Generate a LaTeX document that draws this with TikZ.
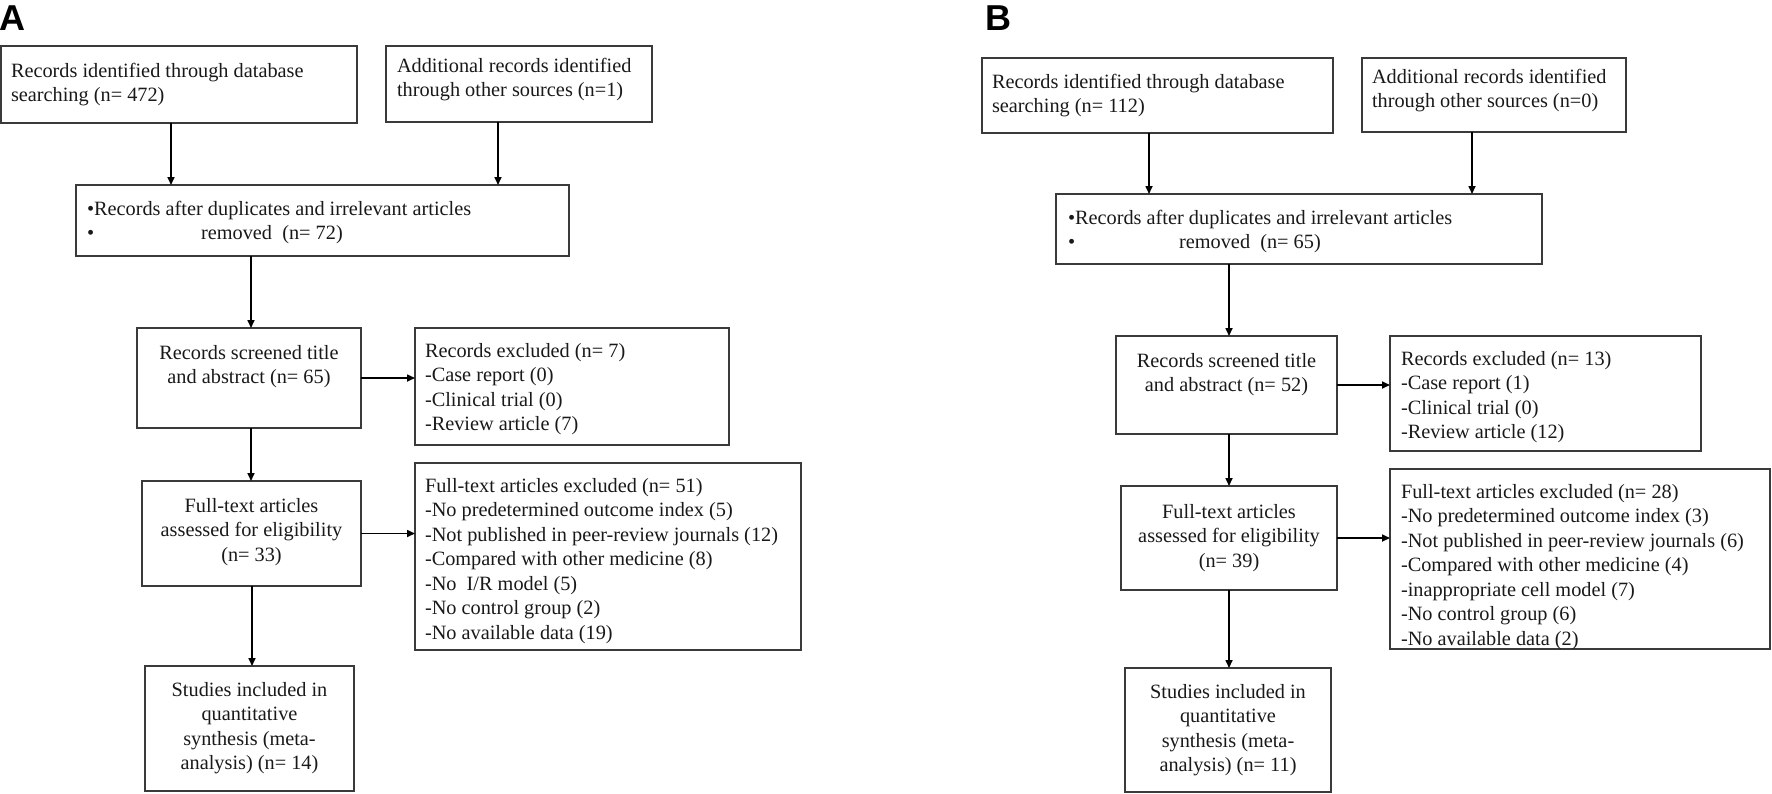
\documentclass[tikz,border=0pt]{standalone}
\usepackage{fontspec}
\setmainfont{Liberation Serif}
\newfontfamily\labfont{Liberation Sans}
\usetikzlibrary{arrows.meta,calc}
\definecolor{boxline}{HTML}{3A3A3A}
\newcommand{\mybox}[5]{\node[boxn, minimum width={#4-#2}, minimum height={#5-#3}] (#1) at ({(#2+#4)/2},{(#3+#5)/2}) {};}
\begin{document}
\begin{tikzpicture}[x=1pt,y=-1pt,
  boxn/.style={draw=boxline, line width=1.5pt, inner sep=0pt, outer sep=0pt, rectangle},
  txt/.style={inner sep=0pt, outer sep=0pt, font=\fontsize{20.3}{24.5}\selectfont, text=black!90, align=left, anchor=base west},
  ctxt/.style={inner sep=0pt, outer sep=0pt, font=\fontsize{20.3}{24.5}\selectfont, text=black!90, align=center, anchor=base},
  arr/.style={draw=black, line width=1.6pt, -{Triangle[length=8pt,width=7pt]}},
  lab/.style={inner sep=0pt, outer sep=0pt, font=\labfont\bfseries\fontsize{36}{36}\selectfont, anchor=base west}
]
\useasboundingbox (0,0) rectangle (1772,793);
% ---------------- Panel A ----------------
\node[lab] (labA) at (-1,30) {A};
\mybox{A1}{1}{46}{357}{123}
\mybox{A2}{386}{46}{652}{122}
\mybox{A3}{76}{185}{569}{256}
\mybox{A4}{137}{328}{361}{428}
\mybox{A5}{415}{328}{729}{445}
\mybox{A6}{142}{481}{361}{586}
\mybox{A7}{415}{463}{801}{650}
\mybox{A8}{145}{666}{354}{791}
\node[txt] (tA1) at (11,101.5) {Records identified through database\\searching (n= 472)};
\node[txt] (tA2) at (397,96.5) {Additional records identified\\through other sources (n=1)};
\node[txt] (tA3) at (87,239.5) {•Records after duplicates and irrelevant articles\\•\hspace{107pt}removed\ \ (n= 72)};
\node[ctxt] (tA4) at (249,383.5) {Records screened title\\and abstract (n= 65)};
\node[txt] (tA5) at (425,430.5) {Records excluded (n= 7)\\-Case report (0)\\-Clinical trial (0)\\-Review article (7)};
\node[ctxt] (tA6) at (251.5,561) {Full-text articles\\assessed for eligibility\\(n= 33)};
\node[txt] (tA7) at (425,639) {Full-text articles excluded (n= 51)\\-No predetermined outcome index (5)\\-Not published in peer-review journals (12)\\-Compared with other medicine (8)\\-No\ \ I/R model (5)\\-No control group (2)\\-No available data (19)};
\node[ctxt] (tA8) at (249.5,769.5) {Studies included in\\quantitative\\synthesis (meta\mbox{-}\\analysis) (n= 14)};
\draw[arr] ([xshift=-8pt]A1.south) -- ([xshift=-8pt]A1.south |- A3.north);
\draw[arr] ([xshift=-21pt]A2.south) -- ([xshift=-21pt]A2.south |- A3.north);
\draw[arr] ([xshift=2pt]A4.north |- A3.south) -- ([xshift=2pt]A4.north);
\draw[arr] (A4.east) -- (A4.east -| A5.west);
\draw[arr] ([xshift=2pt]A4.south) -- ([xshift=2pt]A4.south |- A6.north);
\draw[arr] (A6.east) -- (A6.east -| A7.west);
\draw[arr] ([xshift=0.5pt]A6.south) -- ([xshift=0.5pt]A6.south |- A8.north);
% ---------------- Panel B ----------------
\node[lab] (labB) at (985,30) {B};
\mybox{B1}{982}{58}{1333}{133}
\mybox{B2}{1362}{58}{1626}{132}
\mybox{B3}{1056}{194}{1542}{264}
\mybox{B4}{1116}{336}{1337}{434}
\mybox{B5}{1390}{336}{1701}{451}
\mybox{B6}{1121}{486}{1337}{590}
\mybox{B7}{1390}{469}{1770}{649}
\mybox{B8}{1125}{668}{1331}{792}
\node[txt] (tB1) at (992,112.5) {Records identified through database\\searching (n= 112)};
\node[txt] (tB2) at (1372,107.5) {Additional records identified\\through other sources (n=0)};
\node[txt] (tB3) at (1068,248.5) {•Records after duplicates and irrelevant articles\\•\hspace{104pt}removed\ \ (n= 65)};
\node[ctxt] (tB4) at (1226.5,391.5) {Records screened title\\and abstract (n= 52)};
\node[txt] (tB5) at (1401,438.5) {Records excluded (n= 13)\\-Case report (1)\\-Clinical trial (0)\\-Review article (12)};
\node[ctxt] (tB6) at (1229,567) {Full-text articles\\assessed for eligibility\\(n= 39)};
\node[txt] (tB7) at (1401,645) {Full-text articles excluded (n= 28)\\-No predetermined outcome index (3)\\-Not published in peer-review journals (6)\\-Compared with other medicine (4)\\-inappropriate cell model (7)\\-No control group (6)\\-No available data (2)};
\node[ctxt] (tB8) at (1228,771.5) {Studies included in\\quantitative\\synthesis (meta\mbox{-}\\analysis) (n= 11)};
\draw[arr] ([xshift=-8.5pt]B1.south) -- ([xshift=-8.5pt]B1.south |- B3.north);
\draw[arr] ([xshift=-22pt]B2.south) -- ([xshift=-22pt]B2.south |- B3.north);
\draw[arr] ([xshift=2.5pt]B4.north |- B3.south) -- ([xshift=2.5pt]B4.north);
\draw[arr] (B4.east) -- (B4.east -| B5.west);
\draw[arr] ([xshift=2.5pt]B4.south) -- ([xshift=2.5pt]B4.south |- B6.north);
\draw[arr] (B6.east) -- (B6.east -| B7.west);
\draw[arr] (B6.south) -- (B6.south |- B8.north);
\end{tikzpicture}
\end{document}
